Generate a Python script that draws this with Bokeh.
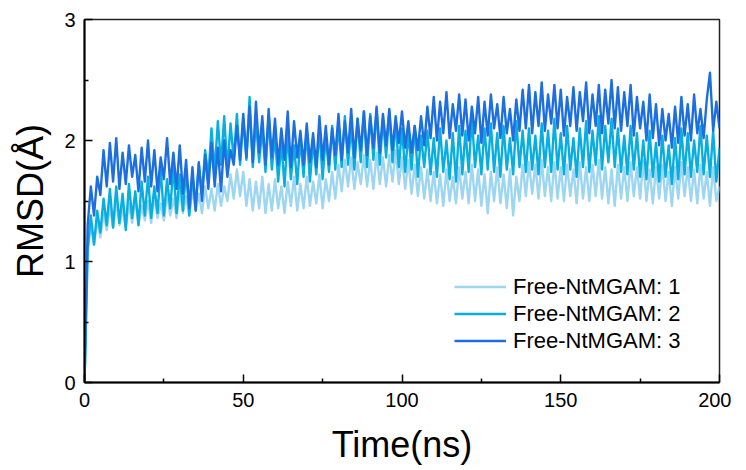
from bokeh.plotting import figure
from bokeh.models import Range1d, FixedTicker, Legend, LegendItem, ColumnDataSource
from bokeh.embed import file_html
from bokeh.resources import INLINE

# ---- data ----
time_ns = list(range(0, 201))

rmsd_1 = [
    0.00, 1.08, 1.30, 1.14, 1.34, 1.20, 1.40, 1.26, 1.46, 1.28,
    1.50, 1.30, 1.44, 1.28, 1.48, 1.32, 1.52, 1.30, 1.46, 1.34,
    1.50, 1.32, 1.54, 1.36, 1.48, 1.34, 1.56, 1.38, 1.52, 1.36,
    1.58, 1.40, 1.54, 1.38, 1.60, 1.42, 1.56, 1.40, 1.62, 1.44,
    1.60, 1.42, 1.64, 1.46, 1.62, 1.50, 1.72, 1.52, 1.76, 1.54,
    1.74, 1.46, 1.68, 1.42, 1.66, 1.44, 1.70, 1.40, 1.64, 1.42,
    1.68, 1.44, 1.62, 1.40, 1.66, 1.46, 1.70, 1.42, 1.64, 1.44,
    1.70, 1.46, 1.66, 1.48, 1.72, 1.44, 1.68, 1.50, 1.74, 1.52,
    1.80, 1.58, 1.84, 1.62, 1.86, 1.60, 1.82, 1.64, 1.88, 1.62,
    1.84, 1.60, 1.90, 1.64, 1.86, 1.62, 1.88, 1.66, 1.92, 1.64,
    1.86, 1.60, 1.84, 1.56, 1.80, 1.54, 1.78, 1.52, 1.76, 1.50,
    1.74, 1.48, 1.72, 1.46, 1.76, 1.50, 1.70, 1.48, 1.78, 1.52,
    1.74, 1.48, 1.80, 1.50, 1.76, 1.46, 1.72, 1.40, 1.74, 1.50,
    1.78, 1.48, 1.72, 1.44, 1.76, 1.38, 1.70, 1.50, 1.80, 1.54,
    1.82, 1.56, 1.80, 1.52, 1.84, 1.54, 1.78, 1.50, 1.82, 1.52,
    1.78, 1.50, 1.80, 1.54, 1.76, 1.48, 1.82, 1.52, 1.78, 1.50,
    1.80, 1.54, 1.84, 1.52, 1.78, 1.48, 1.76, 1.46, 1.80, 1.52,
    1.78, 1.50, 1.82, 1.54, 1.78, 1.52, 1.84, 1.50, 1.76, 1.48,
    1.78, 1.52, 1.80, 1.50, 1.74, 1.46, 1.78, 1.52, 1.82, 1.54,
    1.78, 1.50, 1.76, 1.48, 1.80, 1.52, 1.74, 1.46, 1.78, 1.50,
    1.62,
]

rmsd_2 = [
    0.00, 1.10, 1.38, 1.14, 1.42, 1.24, 1.52, 1.30, 1.60, 1.28,
    1.62, 1.32, 1.56, 1.26, 1.64, 1.36, 1.58, 1.30, 1.66, 1.38,
    1.70, 1.36, 1.62, 1.40, 1.76, 1.38, 1.68, 1.44, 1.78, 1.40,
    1.72, 1.42, 1.76, 1.38, 1.70, 1.46, 1.80, 1.56, 1.92, 1.70,
    2.10, 1.74, 2.16, 1.80, 2.20, 1.76, 2.14, 1.84, 2.22, 1.80,
    2.18, 1.84, 2.36, 1.78, 2.16, 1.82, 2.10, 1.74, 2.20, 1.76,
    2.04, 1.66, 1.98, 1.62, 2.06, 1.68, 1.96, 1.64, 2.02, 1.70,
    2.08, 1.66, 2.00, 1.72, 2.10, 1.68, 2.04, 1.74, 2.12, 1.76,
    2.14, 1.78, 2.20, 1.80, 2.12, 1.76, 2.18, 1.82, 2.24, 1.78,
    2.22, 1.84, 2.26, 1.80, 2.18, 1.86, 2.24, 1.82, 2.16, 1.78,
    2.10, 1.74, 2.06, 1.76, 2.12, 1.70, 2.04, 1.78, 2.08, 1.72,
    2.02, 1.70, 2.10, 1.74, 2.00, 1.68, 2.06, 1.66, 2.12, 1.72,
    2.08, 1.74, 2.20, 1.78, 2.04, 1.72, 2.10, 1.76, 2.14, 1.74,
    2.06, 1.70, 2.12, 1.76, 2.02, 1.72, 2.16, 1.78, 2.08, 1.74,
    2.10, 1.76, 2.04, 1.72, 2.14, 1.78, 2.08, 1.74, 2.18, 1.76,
    2.06, 1.72, 2.12, 1.76, 2.02, 1.70, 2.10, 1.78, 2.16, 1.74,
    2.08, 1.80, 2.20, 1.76, 2.12, 1.82, 2.18, 1.78, 2.10, 1.74,
    2.04, 1.72, 2.12, 1.76, 2.06, 1.70, 2.00, 1.68, 2.08, 1.70,
    1.98, 1.66, 2.04, 1.70, 1.96, 1.64, 2.02, 1.68, 2.10, 1.72,
    2.06, 1.70, 2.00, 1.74, 2.12, 1.72, 2.04, 1.70, 2.08, 1.66,
    1.94,
]

rmsd_3 = [
    0.00, 1.30, 1.62, 1.38, 1.70, 1.55, 1.92, 1.62, 1.98, 1.66,
    2.02, 1.60, 1.90, 1.64, 1.96, 1.70, 1.88, 1.58, 1.94, 1.66,
    2.00, 1.62, 1.92, 1.58, 1.86, 1.68, 2.02, 1.64, 1.90, 1.60,
    1.96, 1.56, 1.84, 1.44, 1.78, 1.42, 1.82, 1.50, 1.88, 1.60,
    1.98, 1.62, 1.94, 1.58, 2.00, 1.70, 1.92, 1.80, 2.12, 1.84,
    2.22, 1.86, 2.28, 1.82, 2.32, 1.90, 2.20, 1.80, 2.26, 1.86,
    2.18, 1.80, 2.10, 1.84, 2.24, 1.78, 2.16, 1.86, 2.08, 1.80,
    2.14, 1.82, 2.06, 1.78, 2.20, 1.84, 2.12, 1.80, 2.10, 1.88,
    2.22, 1.84, 2.16, 1.90, 2.26, 1.86, 2.18, 1.92, 2.24, 1.88,
    2.20, 1.94, 2.28, 1.90, 2.22, 1.96, 2.26, 1.92, 2.20, 1.98,
    2.24, 1.94, 2.16, 1.90, 2.12, 1.92, 2.20, 1.96, 2.28, 2.02,
    2.36, 2.00, 2.32, 2.06, 2.40, 2.02, 2.30, 2.08, 2.38, 2.04,
    2.34, 2.00, 2.28, 2.06, 2.36, 1.98, 2.32, 2.04, 2.38, 2.10,
    2.30, 2.02, 2.36, 2.06, 2.26, 2.00, 2.34, 2.08, 2.42, 2.10,
    2.46, 2.06, 2.40, 2.12, 2.48, 2.08, 2.38, 2.14, 2.46, 2.10,
    2.42, 2.04, 2.36, 2.12, 2.44, 2.08, 2.40, 2.16, 2.48, 2.06,
    2.38, 2.12, 2.46, 2.06, 2.42, 2.14, 2.50, 2.10, 2.44, 2.08,
    2.40, 2.12, 2.46, 2.04, 2.36, 2.10, 2.32, 2.00, 2.38, 2.02,
    2.30, 1.96, 2.26, 2.00, 2.22, 1.94, 2.28, 1.98, 2.36, 2.04,
    2.30, 2.00, 2.38, 2.06, 2.26, 2.02, 2.34, 2.56, 2.08, 2.32,
    2.10,
]

series_names = ["Free-NtMGAM: 1", "Free-NtMGAM: 2", "Free-NtMGAM: 3"]
series_colors = ["#9dd6f1", "#08aee0", "#1d6fdf"]
x_ticks = [0, 50, 100, 150, 200]
x_minor = [25, 75, 125, 175]
y_ticks = [0, 1, 2, 3]
y_minor = [0.5, 1.5, 2.5]

FONT = "Liberation Sans"

p = figure(
    frame_width=635, frame_height=363,
    min_border_left=84, min_border_top=19, min_border_right=12, min_border_bottom=60,
    x_range=Range1d(0, 200), y_range=Range1d(0, 3),
    output_backend="svg", toolbar_location=None,
    background_fill_color="white", border_fill_color="white",
)
p.xgrid.visible = False
p.ygrid.visible = False
p.outline_line_color = "#222222"
p.outline_line_width = 1.5

renderers = []
for vals, col in zip([rmsd_1, rmsd_2, rmsd_3], series_colors):
    src = ColumnDataSource(data=dict(t=time_ns, v=vals))
    r = p.line("t", "v", source=src, line_color=col, line_width=2.4,
               line_join="round")
    renderers.append(r)

for ax in (p.xaxis[0], p.yaxis[0]):
    ax.axis_line_color = "black"
    ax.axis_line_width = 2
    ax.major_tick_in = 8
    ax.major_tick_out = 0
    ax.minor_tick_in = 4
    ax.minor_tick_out = 0
    ax.major_tick_line_color = "black"
    ax.minor_tick_line_color = "black"
    ax.major_tick_line_width = 1.5
    ax.minor_tick_line_width = 1.5
    ax.major_label_text_font = FONT
    ax.major_label_text_font_size = "20px"
    ax.major_label_text_color = "black"
    ax.axis_label_text_font = FONT
    ax.axis_label_text_font_size = "36px"
    ax.axis_label_text_font_style = "normal"
    ax.axis_label_text_color = "black"

p.xaxis.ticker = FixedTicker(ticks=x_ticks, minor_ticks=x_minor)
p.yaxis.ticker = FixedTicker(ticks=y_ticks, minor_ticks=y_minor)
p.xaxis.axis_label = "Time(ns)"
p.yaxis.axis_label = "RMSD(Å)"
p.xaxis.major_label_standoff = 10
p.yaxis.major_label_standoff = 9
p.xaxis.axis_label_standoff = 14
p.yaxis.axis_label_standoff = 10

items = [LegendItem(label=n, renderers=[r]) for n, r in zip(series_names, renderers)]
legend = Legend(
    items=items, location=(370, 28),
    glyph_width=52, glyph_height=27, label_height=27, label_standoff=7,
    spacing=0, padding=0, margin=0,
    label_text_font=FONT, label_text_font_size="22px", label_text_color="black",
    border_line_color=None, background_fill_alpha=0,
)
p.add_layout(legend, "center")

open("out.html", "w").write(file_html(p, INLINE))
